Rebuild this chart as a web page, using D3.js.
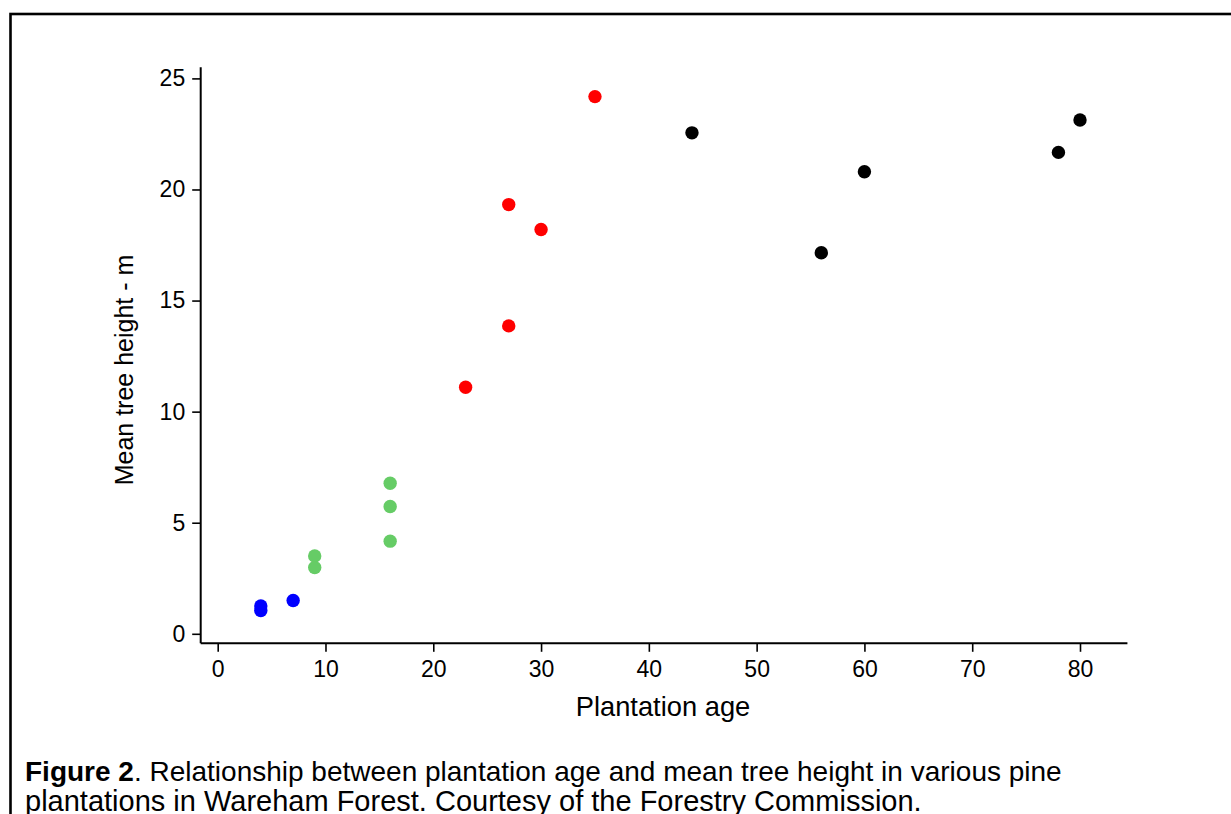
<!DOCTYPE html>
<html>
<head>
<meta charset="utf-8">
<script src="https://cdn.jsdelivr.net/npm/d3@7"></script>
<style>
  html, body { margin: 0; padding: 0; background: #fff; }
  svg { display: block; }
  text { font-family: "Liberation Sans", Arial, sans-serif; fill: #000; }
</style>
</head>
<body>
<svg id="chart" width="1231" height="814"></svg>
<script>
// ---- Data ----
const groups = ["young", "juvenile", "pole", "mature"];
const groupColors = ["#0000ff", "#66cc66", "#ff0000", "#000000"];

const youngAge    = [4, 4, 7];
const youngHeight = [1.25, 1.05, 1.5];

const juvenileAge    = [9, 9, 16, 16, 16];
const juvenileHeight = [3.5, 2.98, 6.78, 5.73, 4.17];

const poleAge    = [23, 27, 27, 30, 35];
const poleHeight = [11.1, 13.86, 19.32, 18.2, 24.18];

const matureAge    = [44, 56, 60, 78, 80];
const matureHeight = [22.55, 17.15, 20.8, 21.67, 23.13];

const xTicks = [0, 10, 20, 30, 40, 50, 60, 70, 80];
const xMinorTicks = [5, 15, 25, 35, 45, 55, 65, 75];
const yTicks = [0, 5, 10, 15, 20, 25];
const yMinorTicks = [1,2,3,4,6,7,8,9,11,12,13,14,16,17,18,19,21,22,23,24];

const xTitle = "Plantation age";
const yTitle = "Mean tree height - m";
const captionBold = "Figure 2";
const captionLine1 = ". Relationship between plantation age and mean tree height in various pine";
const captionLine2 = "plantations in Wareham Forest. Courtesy of the Forestry Commission.";

// ---- Build point table ----
const series = [
  [youngAge, youngHeight],
  [juvenileAge, juvenileHeight],
  [poleAge, poleHeight],
  [matureAge, matureHeight]
];
const points = [];
series.forEach((s, gi) => s[0].forEach((a, i) => points.push({ g: groups[gi], c: groupColors[gi], x: a, y: s[1][i] })));

// ---- Layout ----
const svg = d3.select("#chart");

// outer frame
svg.append("rect")
  .attr("x", 10.5).attr("y", 14)
  .attr("width", 1240).attr("height", 820)
  .attr("fill", "none").attr("stroke", "#000").attr("stroke-width", 2.6);

const x = d3.scaleLinear().domain([0, 80]).range([217.7, 1080]);
const y = d3.scaleLinear().domain([0, 25]).range([633.8, 78.4]);

const axisX = 200.7, axisY = 643.3;

// x axis
const gx = svg.append("g").attr("transform", `translate(0,${axisY})`);
gx.call(d3.axisBottom(x).tickValues(xMinorTicks).tickSize(5.5).tickFormat(""));
gx.call(d3.axisBottom(x).tickValues(xTicks).tickSize(8.5).tickPadding(9).tickFormat(d3.format("d")));
gx.selectAll(".domain").remove();
gx.selectAll("line").attr("stroke", "#000").attr("stroke-width", 1.6);
gx.selectAll("text").style("font-size", "23px").attr("fill", "#000");

// y axis
const gy = svg.append("g").attr("transform", `translate(${axisX},0)`);
gy.call(d3.axisLeft(y).tickValues(yMinorTicks).tickSize(4.5).tickFormat(""));
gy.call(d3.axisLeft(y).tickValues(yTicks).tickSize(8.5).tickPadding(7).tickFormat(d3.format("d")));
gy.selectAll(".domain").remove();
gy.selectAll("line").attr("stroke", "#000").attr("stroke-width", 1.6);
gy.selectAll("text").style("font-size", "23px").attr("fill", "#000");

// axis lines
svg.append("line")
  .attr("x1", axisX).attr("x2", x(84.4))
  .attr("y1", axisY).attr("y2", axisY)
  .attr("stroke", "#000").attr("stroke-width", 2);
svg.append("line")
  .attr("x1", axisX).attr("x2", axisX)
  .attr("y1", y(25.5)).attr("y2", axisY)
  .attr("stroke", "#000").attr("stroke-width", 2);

// points
svg.append("g").selectAll("circle")
  .data(points).enter().append("circle")
  .attr("cx", d => x(d.x))
  .attr("cy", d => y(d.y))
  .attr("r", 6.7)
  .attr("fill", d => d.c);

// titles
svg.append("text")
  .attr("x", 663).attr("y", 716)
  .attr("text-anchor", "middle")
  .style("font-size", "27.3px")
  .text(xTitle);

svg.append("text")
  .attr("transform", `translate(133,370) rotate(-90)`)
  .attr("text-anchor", "middle")
  .style("font-size", "25px")
  .text(yTitle);

// caption
const cap = svg.append("text").attr("x", 25).attr("y", 781).style("font-size", "28px");
cap.append("tspan").style("font-weight", "bold").text(captionBold);
cap.append("tspan").text(captionLine1);
svg.append("text").attr("x", 25).attr("y", 811).style("font-size", "29px").text(captionLine2);
</script>
</body>
</html>
